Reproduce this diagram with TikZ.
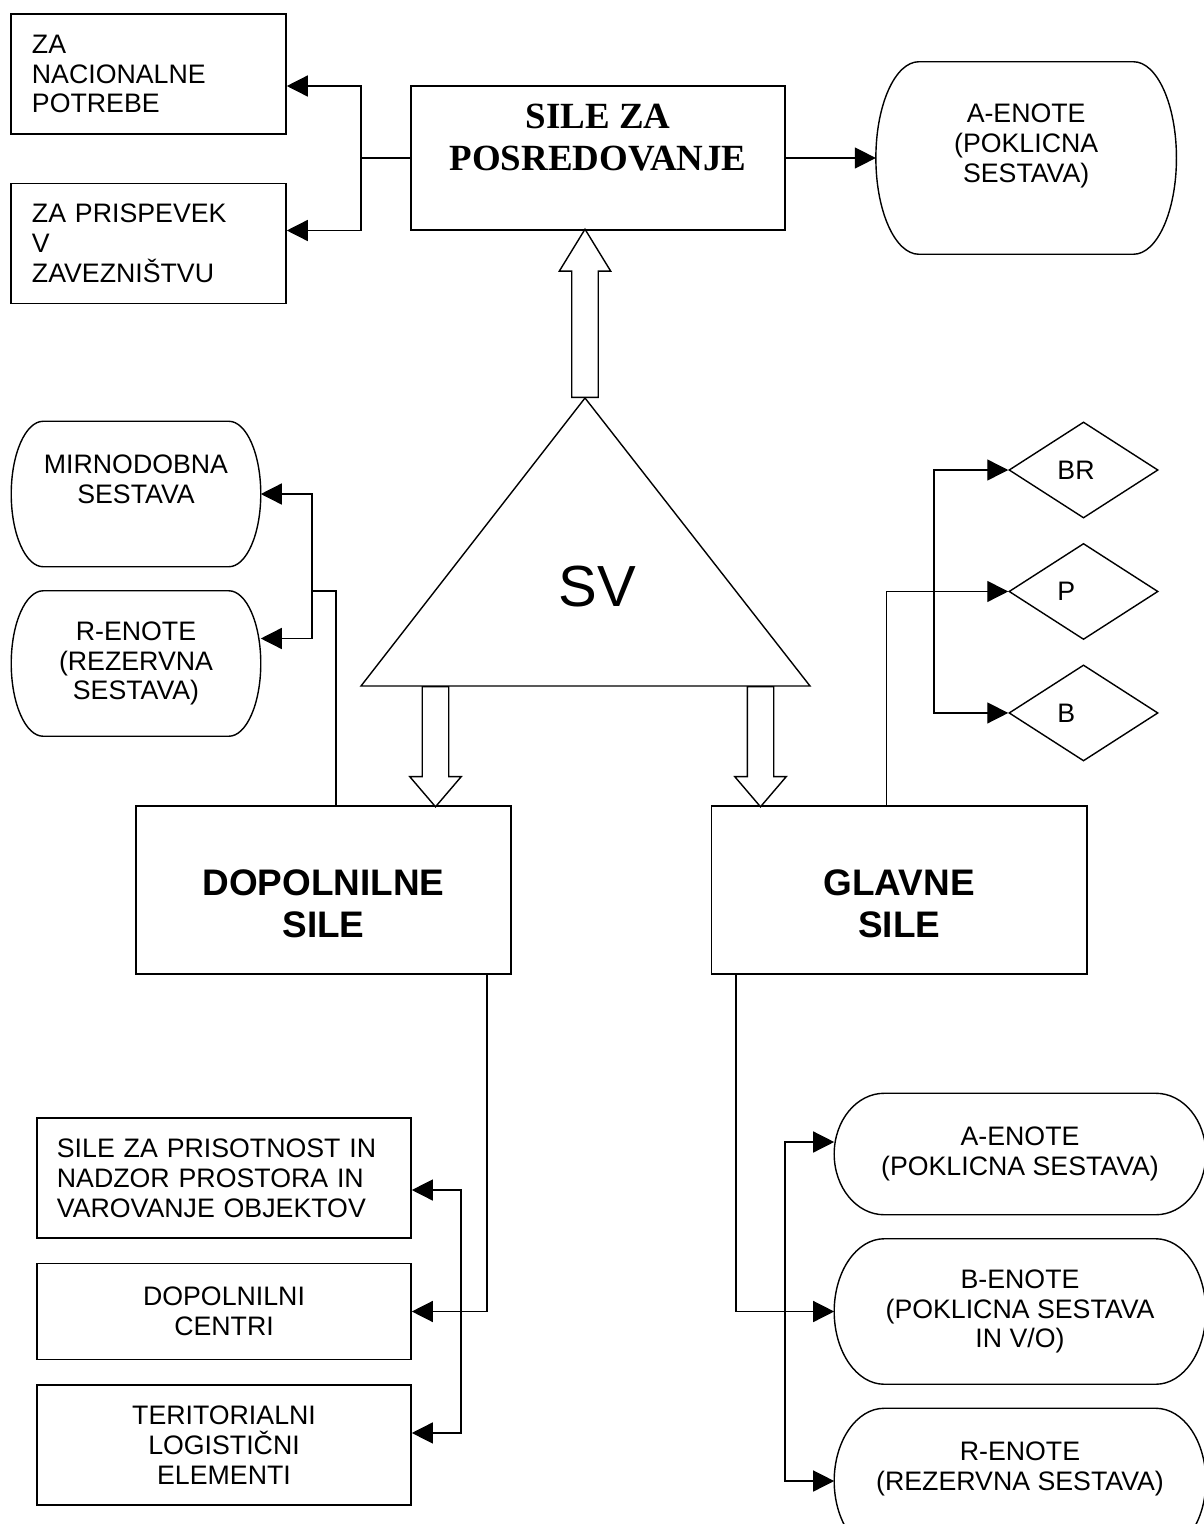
\documentclass[tikz,border=0pt]{standalone}
\usepackage{fontspec}
\setmainfont{Liberation Sans}
\newfontfamily\timesfont{Liberation Serif}
\usetikzlibrary{shapes, arrows.meta, positioning, calc}

% outline with elliptic ends round a named node
\newcommand\pillframe[2]{%
  \draw let \p1=(#1.north), \p2=(#1.south) in
    ([xshift=#2]#1.north west) -- ([xshift=-#2]#1.north east)
    arc[start angle=90, end angle=-90, x radius=#2, y radius={(\y1-\y2)/2}]
    -- ([xshift=#2]#1.south west)
    arc[start angle=270, end angle=90, x radius=#2, y radius={(\y1-\y2)/2}]
    -- cycle;}

\begin{document}
\begin{tikzpicture}[
        x=0.01cm, y=-0.01cm,
        every node/.style={inner sep=0pt},
        textbox/.style={
            rectangle, draw, minimum width=2.75cm, minimum height=1.2cm,
            text width=2.33cm, align=left, font=\fontsize{7.6}{8.5}\selectfont
        },
        cbox/.style={
            rectangle, draw, minimum width=3.74cm, minimum height=0.96cm,
            align=center, font=\fontsize{7.6}{8.5}\selectfont
        },
        mainbox/.style={
            rectangle, draw, minimum width=3.75cm, minimum height=1.68cm,
            align=center, font=\bfseries\fontsize{10.5}{12}\selectfont
        },
        pill/.style={
            rectangle, minimum height=1.44cm, align=center,
            font=\fontsize{7.6}{8.5}\selectfont
        },
        choice/.style={
            diamond, draw, minimum width=1.49cm, minimum height=0.96cm,
            text width=0.52cm, align=left, font=\fontsize{7.6}{8.5}\selectfont
        },
        fatarrow/.style={
            single arrow, draw, fill=white, inner sep=0.125cm, minimum width=0.5cm,
            single arrow head extend=0.125cm
        },
        arrow/.style={-{Triangle[length=2.1mm, width=2.1mm]}}
    ]
        \useasboundingbox (0,0) rectangle (1204,1524);
        \clip (0,0) rectangle (1204,1524);

        % Top
        \node[rectangle, draw, minimum width=3.74cm, minimum height=1.44cm, align=center,
              font=\timesfont\bfseries\fontsize{10.5}{12}\selectfont] (posr) at (598,158)
              {SILE ZA\\POSREDOVANJE\\~};
        \node[textbox] (nat) at (148.5,74) {ZA\\NACIONALNE\\POTREBE};
        \node[textbox, below=0.48cm of nat] (zav) {ZA PRISPEVEK\\V\\ZAVEZNIŠTVU};
        \node[pill, minimum width=2.99cm, minimum height=1.91cm, right=0.9cm of posr] (aenp)
              {A-ENOTE\\(POKLICNA\\SESTAVA)\\~};

        % Left side
        \node[pill, minimum width=2.48cm] (mir) at (136,494) {MIRNODOBNA\\SESTAVA\\~};
        \node[pill, minimum width=2.48cm, below=0.24cm of mir] (ren) {R-ENOTE\\(REZERVNA\\SESTAVA)};

        % Triangle
        \coordinate (apex) at (585,398);
        \coordinate (bl) at (361,686);
        \coordinate (br) at (810,686);
        \draw (apex) -- (br) -- (bl) -- cycle;
        \node[font=\fontsize{16.5}{19}\selectfont] (sv) at (597,587) {SV};

        % Main boxes
        \node[mainbox] (dop) at (323.5,890) {\rule{0pt}{15pt}DOPOLNILNE\\SILE};
        \node[mainbox, right=1.99cm of dop] (glav) {\rule{0pt}{15pt}GLAVNE\\SILE};

        % Right side
        \node[choice] (dbr) at (1083.5,470) {BR};
        \node[choice, below=0.24cm of dbr] (dp) {P};
        \node[choice, below=0.24cm of dp] (db) {B};

        % Bottom left
        \node[textbox, minimum width=3.74cm, text width=3.34cm] (pris) at (224,1178)
              {SILE ZA PRISOTNOST IN\\NADZOR PROSTORA IN\\VAROVANJE OBJEKTOV};
        \node[cbox, below=0.24cm of pris] (cent) {DOPOLNILNI\\CENTRI};
        \node[cbox, minimum height=1.2cm, below=0.24cm of cent] (log)
              {TERITORIALNI\\LOGISTIČNI\\ELEMENTI};

        % Bottom right
        \node[pill, minimum width=3.7cm, minimum height=1.2cm] (ae) at (1020,1154)
              {A-ENOTE\\(POKLICNA SESTAVA)};
        \node[pill, minimum width=3.7cm, below=0.24cm of ae] (be)
              {B-ENOTE\\(POKLICNA SESTAVA\\IN V/O)};
        \node[pill, minimum width=3.7cm, below=0.24cm of be] (re)
              {R-ENOTE\\(REZERVNA SESTAVA)\\~};

        \pillframe{aenp}{0.43cm}
        \pillframe{mir}{0.32cm}
        \pillframe{ren}{0.32cm}
        \pillframe{ae}{0.5cm}
        \pillframe{be}{0.5cm}
        \pillframe{re}{0.5cm}

        % Hollow arrows
        \node[fatarrow, shape border rotate=90, single arrow tip angle=63,
              minimum height=1.68cm, anchor=tail] (upar) at (apex) {};
        \coordinate (tl) at (435.5,686);
        \coordinate (tr) at (760.5,686);
        \node[fatarrow, shape border rotate=270, single arrow tip angle=81,
              minimum height=1.2cm, anchor=tail] (dnl) at (tl) {};
        \node[fatarrow, shape border rotate=270, single arrow tip angle=81,
              minimum height=1.2cm, anchor=tail] (dnr) at (tr) {};

        % Connectors at the top
        \coordinate (jl) at (361,158);
        \draw (posr.west) -- (jl);
        \draw[arrow] (jl) |- ([yshift=-1.2mm]nat.east);
        \draw[arrow] (jl) |- ([yshift=1.3mm]zav.east);
        \draw[arrow] (posr.east) -- (aenp.west);

        % Connectors of DOPOLNILNE SILE
        \coordinate (jm) at (312,591);
        \draw ([xshift=1.25mm]dop.north) |- (jm);
        \draw[arrow] (jm) |- (mir.east);
        \draw[arrow] (jm) |- ([yshift=2.5mm]ren.east);
        \coordinate (jb) at (461,1310);
        \draw[arrow] ([xshift=-2.5mm]dop.south east) |- (cent.east);
        \draw[arrow] (jb) |- ([yshift=-1.2mm]pris.east);
        \draw[arrow] (jb) |- ([yshift=1.2mm]log.east);

        % Connectors of GLAVNE SILE
        \coordinate (jr) at (934,590);
        \draw[arrow] ([xshift=-1.3mm]glav.north) |- (dp.west);
        \draw[arrow] (jr) |- (dbr.west);
        \draw[arrow] (jr) |- (db.west);
        \coordinate (jbr) at (785,1310);
        \draw[arrow] ([xshift=2.5mm]glav.south west) |- (be.west);
        \draw[arrow] (jbr) |- ([yshift=1.2mm]ae.west);
        \draw[arrow] (jbr) |- (re.west);

    \end{tikzpicture}
\end{document}
